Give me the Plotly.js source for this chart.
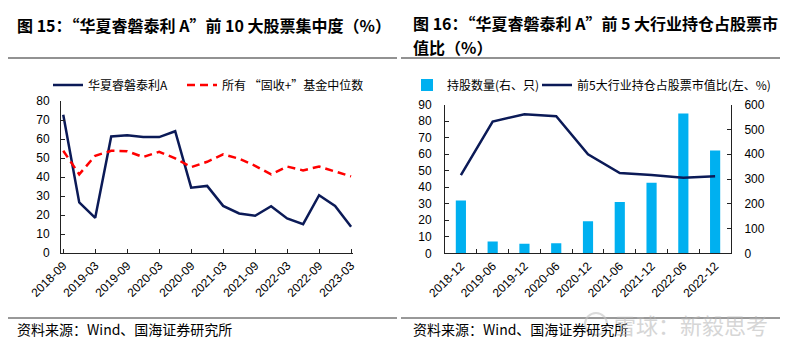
<!DOCTYPE html>
<html>
<head>
<meta charset="utf-8">
<script src="https://cdn.plot.ly/plotly-3.0.1.min.js"></script>
<style>html,body{margin:0;padding:0;background:#fff;}#chart{width:800px;height:350px;}</style>
</head>
<body>
<div id="chart"></div>
<script>
// ---- Data: Figure 15 (quarterly) ----
const quarters = ['2018-09','2018-12','2019-03','2019-06','2019-09','2019-12','2020-03','2020-06','2020-09','2020-12','2021-03','2021-06','2021-09','2021-12','2022-03','2022-06','2022-09','2022-12','2023-03'];
const top10Conc = [72.8,26.6,18.5,61.3,62.0,61.1,61.0,64.1,34.4,35.3,24.8,20.8,19.6,24.6,18.2,15.2,30.4,24.8,13.8];
const medianFixedPlus = [53.8,41.4,51.2,53.8,53.6,50.5,53.3,49.8,45.2,48.0,51.9,49.6,45.9,41.4,45.5,43.5,45.5,43.0,40.3];
const quarterTicks = ['2018-09','2019-03','2019-09','2020-03','2020-09','2021-03','2021-09','2022-03','2022-09','2023-03'];

// ---- Data: Figure 16 (semi-annual) ----
const halfYears = ['2018-12','2019-06','2019-12','2020-06','2020-12','2021-06','2021-12','2022-06','2022-12'];
const stockCount = [213,48,39,41,129,207,285,564,415];
const top5IndustryShare = [47.4,79.8,84.2,83.0,60.0,48.6,47.4,45.8,46.6];

const seriesNames = ['华夏睿磐泰利A','所有 “固收+”基金中位数','持股数量(右、只)','前5大行业持仓占股票市值比(左、%)'];

const FONT = 'Liberation Sans, Arial, Noto Sans CJK SC, sans-serif';
const CJK = 'Noto Sans CJK SC, Liberation Sans, sans-serif';
const NAVY = '#0b1a57';

const traces = [
  {x: quarters, y: top10Conc, type:'scatter', mode:'lines', name: seriesNames[0],
   line:{color:NAVY, width:2.5}, xaxis:'x', yaxis:'y', legend:'legend'},
  {x: quarters, y: medianFixedPlus, type:'scatter', mode:'lines', name: seriesNames[1],
   line:{color:'#ff0000', width:2.5, dash:'8px,5px'}, xaxis:'x', yaxis:'y', legend:'legend2'},
  {x: halfYears, y: stockCount, type:'bar', name: seriesNames[2],
   marker:{color:'#00b0f0'}, width:0.32, xaxis:'x2', yaxis:'y2', legend:'legend3'},
  {x: halfYears, y: top5IndustryShare, type:'scatter', mode:'lines', name: seriesNames[3],
   line:{color:NAVY, width:2.5}, xaxis:'x2', yaxis:'y3', legend:'legend4'}
];

const axisCommon = {
  showline:true, linecolor:'#222', linewidth:1, ticks:'inside', ticklen:4, tickcolor:'#222',
  showgrid:false, zeroline:false, tickfont:{family:FONT, size:12, color:'#000'}, fixedrange:true
};

const H = 350, W = 800;
const py = v => 1 - v / H;
const px = v => v / W;

const legendAt = x => ({orientation:'h', x:px(x), y:py(85), xanchor:'left', yanchor:'middle',
  font:{family:CJK, size:12, color:'#000'}, bgcolor:'rgba(0,0,0,0)',
  itemclick:false, itemdoubleclick:false});

const layout = {
  width:W, height:H, margin:{l:0,r:0,t:0,b:0},
  paper_bgcolor:'#fff', plot_bgcolor:'rgba(0,0,0,0)',
  showlegend:true,
  xaxis: Object.assign({}, axisCommon, {
    type:'category', domain:[px(61), px(353)], range:[-0.14, 18.12], anchor:'y',
    tickmode:'array', tickvals: quarterTicks, ticktext: quarterTicks, tickangle:-45
  }),
  yaxis: Object.assign({}, axisCommon, {
    domain:[py(253), py(101)], range:[0,80], dtick:10, anchor:'x', ticklabelstandoff:8
  }),
  xaxis2: Object.assign({}, axisCommon, {
    type:'category', domain:[px(445), px(731)], range:[-0.5, 8.5], anchor:'y2',
    tickson:'boundaries', tickangle:-45
  }),
  yaxis2: Object.assign({}, axisCommon, {
    domain:[py(253.3), py(104.7)], range:[0,600], dtick:100, anchor:'x2', side:'right', ticklabelstandoff:10
  }),
  yaxis3: Object.assign({}, axisCommon, {
    domain:[py(253.3), py(104.7)], range:[0,90], dtick:10, anchor:'x2', side:'left', overlaying:'y2', ticklabelstandoff:10
  }),
  legend: legendAt(48),
  legend2: legendAt(182),
  legend3: legendAt(407),
  legend4: legendAt(537),
  annotations: [
    {xref:'paper', yref:'paper', x:px(15), y:py(25), xanchor:'left', yanchor:'middle', showarrow:false,
     text:'图 15：“华夏睿磐泰利 A”前 10 大股票集中度（%）', font:{family:CJK, size:16, color:'#000', weight:'bold'}},
    {xref:'paper', yref:'paper', x:px(411), y:py(23), xanchor:'left', yanchor:'middle', showarrow:false,
     text:'图 16：“华夏睿磐泰利 A”前 5 大行业持仓占股票市', font:{family:CJK, size:16, color:'#000', weight:'bold'}},
    {xref:'paper', yref:'paper', x:px(411), y:py(47), xanchor:'left', yanchor:'middle', showarrow:false,
     text:'值比（%）', font:{family:CJK, size:16, color:'#000', weight:'bold'}},
    {xref:'paper', yref:'paper', x:px(15), y:py(329), xanchor:'left', yanchor:'middle', showarrow:false,
     text:'资料来源：Wind、国海证券研究所', font:{family:CJK, size:14, color:'#000'}},
    {xref:'paper', yref:'paper', x:px(411), y:py(329), xanchor:'left', yanchor:'middle', showarrow:false,
     text:'资料来源：Wind、国海证券研究所', font:{family:CJK, size:14, color:'#000'}},
    {xref:'paper', yref:'paper', x:px(612), y:py(324), xanchor:'left', yanchor:'middle', showarrow:false,
     text:'雪球：新毅思考', opacity:0.55, font:{family:CJK, size:22, color:'#b5b5b5'}}
  ],
  shapes: [
    {type:'line', xref:'paper', yref:'paper', x0:px(8), x1:px(397), y0:py(58), y1:py(58), line:{color:'#6e6e6e', width:1.5}},
    {type:'line', xref:'paper', yref:'paper', x0:px(401), x1:px(780), y0:py(58), y1:py(58), line:{color:'#6e6e6e', width:1.5}},
    {type:'line', xref:'paper', yref:'paper', x0:px(8), x1:px(397), y0:py(318), y1:py(318), line:{color:'#333', width:1}},
    {type:'line', xref:'paper', yref:'paper', x0:px(401), x1:px(780), y0:py(318), y1:py(318), line:{color:'#333', width:1}},
    {type:'circle', xref:'paper', yref:'paper', x0:px(585), x1:px(607), y0:py(335), y1:py(313), line:{color:'#c4c4c4', width:2}, opacity:0.6}
  ]
};

Plotly.newPlot('chart', traces, layout, {staticPlot:true, displayModeBar:false});
</script>
</body>
</html>
